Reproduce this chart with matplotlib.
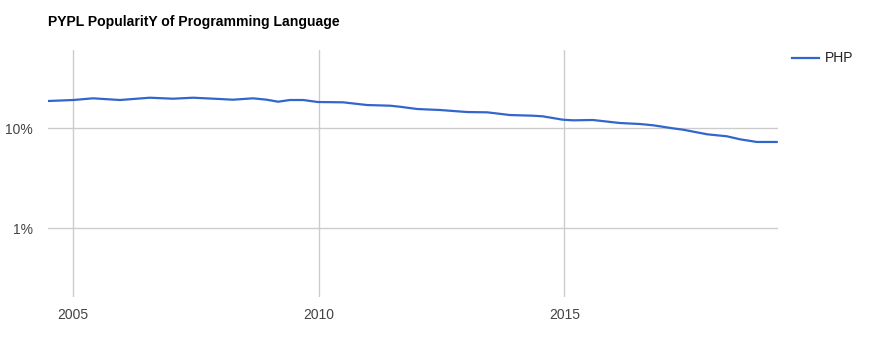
import matplotlib
matplotlib.use("Agg")
import matplotlib.pyplot as plt
from matplotlib.ticker import FixedLocator, NullLocator

plt.rcParams['font.family'] = ['Liberation Sans', 'DejaVu Sans']

title = "PYPL PopularitY of Programming Language"
series_name = "PHP"
years = [2004.48, 2005.00, 2005.40, 2005.95, 2006.56, 2007.03, 2007.44, 2007.99,
         2008.25, 2008.66, 2008.94, 2009.17, 2009.41, 2009.68, 2009.98, 2010.49,
         2010.98, 2011.45, 2011.65, 2012.00, 2012.47, 2013.02, 2013.43, 2013.89,
         2014.36, 2014.56, 2014.97, 2015.18, 2015.58, 2016.13, 2016.54, 2016.81,
         2017.21, 2017.42, 2017.91, 2018.31, 2018.58, 2018.92, 2019.33]
share = [18.75, 19.19, 19.95, 19.19, 20.23, 19.77, 20.23, 19.63,
         19.32, 19.95, 19.32, 18.45, 19.19, 19.19, 18.32, 18.20,
         17.10, 16.83, 16.44, 15.60, 15.24, 14.55, 14.45, 13.58,
         13.37, 13.18, 12.19, 12.02, 12.11, 11.30, 11.04, 10.72,
         10.00, 9.68, 8.71, 8.32, 7.76, 7.30, 7.30]
x_ticks = [2005, 2010, 2015]
y_ticks = [1, 10]
y_tick_labels = ["1%", "10%"]

W, H = 874, 347
fig = plt.figure(figsize=(W / 100, H / 100), dpi=100)
ax = fig.add_axes([48 / W, (H - 297) / H, (778 - 48) / W, (297 - 50) / H])

ax.plot(years, share, color="#3366cc", lw=1.6, solid_capstyle="round", zorder=3)
ax.set_yscale("log")
ax.set_xlim(2004.485, 2019.35)
ax.set_ylim(0.2056, 60.7)

ax.xaxis.set_major_locator(FixedLocator(x_ticks))
ax.set_xticklabels([str(t) for t in x_ticks])
ax.yaxis.set_major_locator(FixedLocator(y_ticks))
ax.yaxis.set_minor_locator(NullLocator())
ax.set_yticklabels(y_tick_labels)
ax.grid(True, color="#cccccc", lw=1)
ax.set_axisbelow(True)
for s in ax.spines.values():
    s.set_visible(False)
ax.tick_params(length=0, labelsize=10, colors="#444444")
ax.tick_params(axis="x", pad=8)
ax.tick_params(axis="y", pad=11)

fig.text(48 / W, 1 - 22 / H, title, fontsize=10.1, fontweight="bold",
         color="#000000", va="center", ha="left")

# legend
fig.add_artist(plt.Line2D([792 / W, 819 / W], [1 - 57.7 / H] * 2,
                          color="#3366cc", lw=1.6, transform=fig.transFigure))
fig.text(825 / W, 1 - 57.7 / H, series_name, fontsize=10, color="#222222",
         va="center", ha="left")

fig.savefig("out.png", dpi=100, facecolor="white")
